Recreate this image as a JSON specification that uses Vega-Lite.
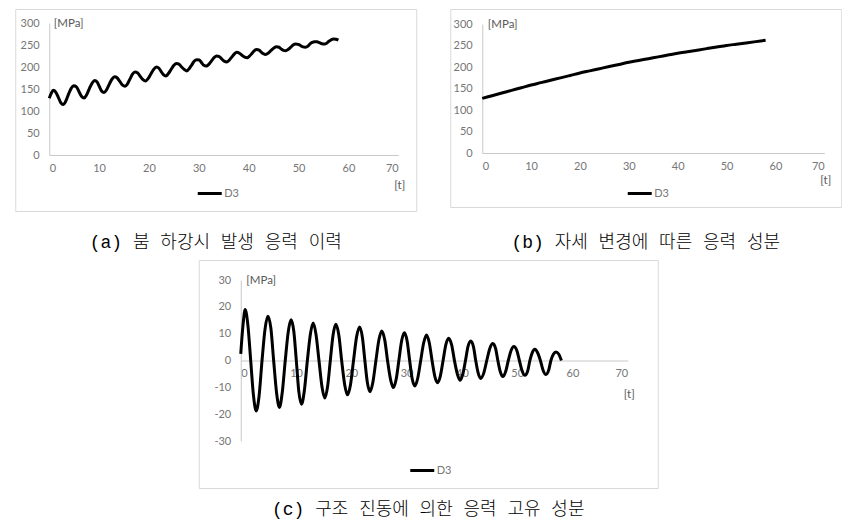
{
  "$schema": "https://vega.github.io/schema/vega-lite/v6.json",
  "padding": {"left": 14, "top": 8, "right": 0, "bottom": 0},
  "spacing": 6,
  "center": true,
  "resolve": {"scale": {"color": "independent"}, "legend": {"color": "independent"}},
  "vconcat": [
    {
      "spacing": 32,
      "resolve": {"scale": {"color": "independent"}, "legend": {"color": "independent"}},
      "hconcat": [
        {
          "width": 401,
          "height": 202,
          "title": {"text": "(a) 붐 하강시 발생 응력 이력", "orient": "bottom", "offset": 23},
          "data": {"values": [
            {"t": 0, "v": 129}, {"t": 0.4, "v": 140}, {"t": 0.8, "v": 147}, {"t": 1.3, "v": 143}, {"t": 1.8, "v": 131.6},
            {"t": 2.3, "v": 119}, {"t": 2.8, "v": 114.5}, {"t": 3.3, "v": 122}, {"t": 3.85, "v": 137.9}, {"t": 4.4, "v": 151.4},
            {"t": 4.9, "v": 157.5}, {"t": 5.45, "v": 154.9}, {"t": 5.95, "v": 144.4}, {"t": 6.5, "v": 133}, {"t": 7.0, "v": 129.5},
            {"t": 7.5, "v": 137}, {"t": 8.05, "v": 151}, {"t": 8.6, "v": 163.5}, {"t": 9.1, "v": 169.5}, {"t": 9.6, "v": 166},
            {"t": 10.05, "v": 155.6}, {"t": 10.5, "v": 145.4}, {"t": 11.0, "v": 141.8}, {"t": 11.5, "v": 148.4}, {"t": 12.05, "v": 161.2},
            {"t": 12.6, "v": 172.7}, {"t": 13.1, "v": 177.8}, {"t": 13.6, "v": 175.5}, {"t": 14.15, "v": 167.1}, {"t": 14.7, "v": 158.8},
            {"t": 15.2, "v": 156.5}, {"t": 15.7, "v": 161.7}, {"t": 16.2, "v": 172.9}, {"t": 16.7, "v": 183.8}, {"t": 17.2, "v": 188.5},
            {"t": 17.75, "v": 186.5}, {"t": 18.25, "v": 178.6}, {"t": 18.8, "v": 171.1}, {"t": 19.3, "v": 168.2}, {"t": 19.85, "v": 174.1},
            {"t": 20.4, "v": 184.5}, {"t": 20.95, "v": 194.7}, {"t": 21.5, "v": 200}, {"t": 22.0, "v": 197.2}, {"t": 22.45, "v": 189.6},
            {"t": 22.9, "v": 182.6}, {"t": 23.4, "v": 179.6}, {"t": 23.9, "v": 185.2}, {"t": 24.45, "v": 194.6}, {"t": 25.0, "v": 203.8},
            {"t": 25.5, "v": 208}, {"t": 26.05, "v": 206.2}, {"t": 26.55, "v": 199.9}, {"t": 27.1, "v": 194.2}, {"t": 27.6, "v": 191},
            {"t": 28.1, "v": 196.7}, {"t": 28.6, "v": 205}, {"t": 29.1, "v": 213.6}, {"t": 29.6, "v": 216.5}, {"t": 30.1, "v": 215.9},
            {"t": 30.55, "v": 209.7}, {"t": 31.0, "v": 203.9}, {"t": 31.5, "v": 202}, {"t": 32.0, "v": 206}, {"t": 32.55, "v": 213.9},
            {"t": 33.1, "v": 221.7}, {"t": 33.6, "v": 225}, {"t": 34.1, "v": 223.7}, {"t": 34.6, "v": 218.2}, {"t": 35.1, "v": 213.3},
            {"t": 35.6, "v": 211.5}, {"t": 36.1, "v": 215.5}, {"t": 36.6, "v": 222.4}, {"t": 37.1, "v": 229.3}, {"t": 37.6, "v": 233.5},
            {"t": 38.15, "v": 231.4}, {"t": 38.65, "v": 226.7}, {"t": 39.2, "v": 222.6}, {"t": 39.7, "v": 221.2}, {"t": 40.15, "v": 224.6},
            {"t": 40.65, "v": 230.7}, {"t": 41.1, "v": 236.7}, {"t": 41.6, "v": 239.7}, {"t": 42.1, "v": 238.4}, {"t": 42.5, "v": 234},
            {"t": 42.95, "v": 230.1}, {"t": 43.4, "v": 228.6}, {"t": 43.95, "v": 231.9}, {"t": 44.5, "v": 237.6}, {"t": 45.05, "v": 243.1},
            {"t": 45.6, "v": 245.8}, {"t": 46.1, "v": 244.9}, {"t": 46.5, "v": 241.2}, {"t": 46.95, "v": 237.8}, {"t": 47.4, "v": 237},
            {"t": 47.9, "v": 239.5}, {"t": 48.4, "v": 244.6}, {"t": 48.9, "v": 249.9}, {"t": 49.4, "v": 252.5}, {"t": 49.95, "v": 251.5},
            {"t": 50.4, "v": 248.6}, {"t": 50.9, "v": 245.8}, {"t": 51.4, "v": 245}, {"t": 51.9, "v": 247.5}, {"t": 52.3, "v": 252.3},
            {"t": 52.75, "v": 255.8}, {"t": 53.2, "v": 257.5}, {"t": 53.7, "v": 257.2}, {"t": 54.2, "v": 255.2}, {"t": 54.7, "v": 252.8},
            {"t": 55.2, "v": 252.3}, {"t": 55.7, "v": 254.8}, {"t": 56.1, "v": 258.7}, {"t": 56.55, "v": 261.8}, {"t": 57.0, "v": 263.5},
            {"t": 57.5, "v": 263}, {"t": 58.0, "v": 261}
          ]},
          "mark": {"type": "line", "strokeWidth": 3, "interpolate": "monotone"},
          "encoding": {
            "x": {"field": "t", "type": "quantitative", "scale": {"domain": [0, 70], "range": [34, 383], "nice": false},
                  "axis": {"values": [0, 10, 20, 30, 40, 50, 60, 70], "offset": -56, "title": "[t]", "titleX": 384, "titleY": 30}},
            "y": {"field": "v", "type": "quantitative", "scale": {"domain": [0, 300], "range": [146, 14], "nice": false},
                  "axis": {"values": [0, 50, 100, 150, 200, 250, 300], "offset": -34, "title": "[MPa]", "titleX": 4, "titleY": 14}},
            "color": {"datum": "D3", "scale": {"range": ["#000000"]}, "legend": {"orient": "none", "legendX": 181, "legendY": 171, "title": null}}
          }
        },
        {
          "width": 391,
          "height": 198,
          "title": {"text": "(b) 자세 변경에 따른 응력 성분", "orient": "bottom", "offset": 27},
          "data": {"values": [
            {"t": 0, "v": 127}, {"t": 2, "v": 133.2}, {"t": 4, "v": 139.4}, {"t": 6, "v": 145.6}, {"t": 8, "v": 151.8},
            {"t": 10, "v": 158}, {"t": 12, "v": 163.6}, {"t": 14, "v": 169.2}, {"t": 16, "v": 174.8}, {"t": 18, "v": 180.4},
            {"t": 20, "v": 186}, {"t": 22, "v": 191}, {"t": 24, "v": 196}, {"t": 26, "v": 201}, {"t": 28, "v": 206},
            {"t": 30, "v": 211}, {"t": 32, "v": 215.2}, {"t": 34, "v": 219.4}, {"t": 36, "v": 223.6}, {"t": 38, "v": 227.8},
            {"t": 40, "v": 232}, {"t": 42, "v": 235.6}, {"t": 44, "v": 239.2}, {"t": 46, "v": 242.8}, {"t": 48, "v": 246.4},
            {"t": 50, "v": 250}, {"t": 52, "v": 253}, {"t": 54, "v": 256}, {"t": 56, "v": 259}, {"t": 58, "v": 262}
          ]},
          "mark": {"type": "line", "strokeWidth": 3, "interpolate": "monotone"},
          "encoding": {
            "x": {"field": "t", "type": "quantitative", "scale": {"domain": [0, 70], "range": [32, 374], "nice": false},
                  "axis": {"values": [0, 10, 20, 30, 40, 50, 60, 70], "offset": -54, "title": "[t]", "titleX": 375, "titleY": 27}},
            "y": {"field": "v", "type": "quantitative", "scale": {"domain": [0, 300], "range": [144, 15], "nice": false},
                  "axis": {"values": [0, 50, 100, 150, 200, 250, 300], "offset": -32, "title": "[MPa]", "titleX": 5, "titleY": 15}},
            "color": {"datum": "D3", "scale": {"range": ["#000000"]}, "legend": {"orient": "none", "legendX": 176, "legendY": 171, "title": null}}
          }
        }
      ]
    },
    {
      "width": 459,
      "height": 228,
      "title": {"text": "(c) 구조 진동에 의한 응력 고유 성분", "orient": "bottom", "offset": 13},
      "data": {"values": [
        {"t": 0, "v": 2.5}, {"t": 0.4, "v": 13}, {"t": 0.8, "v": 19}, {"t": 1.3, "v": 13}, {"t": 1.8, "v": 0},
        {"t": 2.3, "v": -13}, {"t": 2.8, "v": -18.8}, {"t": 3.3, "v": -13.5}, {"t": 3.85, "v": 0}, {"t": 4.4, "v": 11.8},
        {"t": 4.9, "v": 16.5}, {"t": 5.45, "v": 12}, {"t": 5.95, "v": 0}, {"t": 6.5, "v": -12.4}, {"t": 7.0, "v": -17.5},
        {"t": 7.5, "v": -12}, {"t": 8.05, "v": 0}, {"t": 8.6, "v": 10.8}, {"t": 9.1, "v": 15.2}, {"t": 9.6, "v": 10.8},
        {"t": 10.05, "v": 0}, {"t": 10.5, "v": -11.5}, {"t": 11.0, "v": -16.3}, {"t": 11.5, "v": -11.3}, {"t": 12.05, "v": 0},
        {"t": 12.6, "v": 9.9}, {"t": 13.1, "v": 14}, {"t": 13.6, "v": 9.9}, {"t": 14.15, "v": 0}, {"t": 14.7, "v": -9.9},
        {"t": 15.2, "v": -14}, {"t": 15.7, "v": -9.8}, {"t": 16.2, "v": 0}, {"t": 16.7, "v": 9.5}, {"t": 17.2, "v": 13.5},
        {"t": 17.75, "v": 9.3}, {"t": 18.25, "v": 0}, {"t": 18.8, "v": -9}, {"t": 19.3, "v": -12.8}, {"t": 19.85, "v": -9},
        {"t": 20.4, "v": 0}, {"t": 20.95, "v": 8.8}, {"t": 21.5, "v": 12.5}, {"t": 22.0, "v": 8.7}, {"t": 22.45, "v": 0},
        {"t": 22.9, "v": -8.2}, {"t": 23.4, "v": -11.6}, {"t": 23.9, "v": -8.1}, {"t": 24.45, "v": 0}, {"t": 25.0, "v": 7.8},
        {"t": 25.5, "v": 11}, {"t": 26.05, "v": 7.6}, {"t": 26.55, "v": 0}, {"t": 27.1, "v": -7.1}, {"t": 27.6, "v": -10.1},
        {"t": 28.1, "v": -7.1}, {"t": 28.6, "v": 0}, {"t": 29.1, "v": 7.3}, {"t": 29.6, "v": 10.3}, {"t": 30.1, "v": 7.2},
        {"t": 30.55, "v": 0}, {"t": 31.0, "v": -6.7}, {"t": 31.5, "v": -9.5}, {"t": 32.0, "v": -6.7}, {"t": 32.55, "v": 0},
        {"t": 33.1, "v": 6.7}, {"t": 33.6, "v": 9.5}, {"t": 34.1, "v": 6.6}, {"t": 34.6, "v": 0}, {"t": 35.1, "v": -5.9},
        {"t": 35.6, "v": -8.3}, {"t": 36.1, "v": -5.8}, {"t": 36.6, "v": 0}, {"t": 37.1, "v": 5.9}, {"t": 37.6, "v": 8.3},
        {"t": 38.15, "v": 5.8}, {"t": 38.65, "v": 0}, {"t": 39.2, "v": -5.2}, {"t": 39.7, "v": -7.4}, {"t": 40.15, "v": -5.2},
        {"t": 40.65, "v": 0}, {"t": 41.1, "v": 5.2}, {"t": 41.6, "v": 7.3}, {"t": 42.1, "v": 5.1}, {"t": 42.5, "v": 0},
        {"t": 42.95, "v": -4.7}, {"t": 43.4, "v": -6.7}, {"t": 43.95, "v": -4.7}, {"t": 44.5, "v": 0}, {"t": 45.05, "v": 4.5},
        {"t": 45.6, "v": 6.3}, {"t": 46.1, "v": 4.4}, {"t": 46.5, "v": 0}, {"t": 46.95, "v": -4.2}, {"t": 47.4, "v": -6},
        {"t": 47.9, "v": -4.2}, {"t": 48.4, "v": 0}, {"t": 48.9, "v": 3.7}, {"t": 49.4, "v": 5.2}, {"t": 49.95, "v": 3.6},
        {"t": 50.4, "v": 0}, {"t": 50.9, "v": -3.9}, {"t": 51.4, "v": -5.5}, {"t": 51.9, "v": -3.9}, {"t": 52.3, "v": 0},
        {"t": 52.75, "v": 3}, {"t": 53.2, "v": 4.2}, {"t": 53.7, "v": 2.9}, {"t": 54.2, "v": 0}, {"t": 54.7, "v": -3.7},
        {"t": 55.2, "v": -5.2}, {"t": 55.7, "v": -3.6}, {"t": 56.1, "v": 0}, {"t": 56.55, "v": 2.3}, {"t": 57.0, "v": 3.2},
        {"t": 57.5, "v": 2.4}, {"t": 58.0, "v": 0}
      ]},
      "mark": {"type": "line", "strokeWidth": 3, "interpolate": "monotone"},
      "encoding": {
        "x": {"field": "t", "type": "quantitative", "scale": {"domain": [0, 70], "range": [42, 429], "nice": false},
              "axis": {"values": [0, 10, 20, 30, 40, 50, 60, 70], "offset": -127.5, "title": "[t]", "titleX": 430, "titleY": 34}},
        "y": {"field": "v", "type": "quantitative", "scale": {"domain": [-30, 30], "range": [181, 20], "nice": false},
              "axis": {"values": [-30, -20, -10, 0, 10, 20, 30], "labelExpr": "'' + datum.value", "offset": -42, "title": "[MPa]", "titleX": 5, "titleY": 20}},
        "color": {"datum": "D3", "scale": {"range": ["#000000"]}, "legend": {"orient": "none", "legendX": 210, "legendY": 197, "title": null}}
      }
    }
  ],
  "config": {
    "view": {"stroke": "#d9d9d9", "strokeWidth": 1},
    "axis": {"ticks": false, "grid": false, "domainColor": "#c8c8c8", "domainWidth": 1,
             "labelFont": "Lato", "labelFontSize": 11, "labelColor": "#767676",
             "titleFont": "Lato", "titleFontSize": 11.5, "titleColor": "#595959", "titleFontWeight": "normal", "titleAngle": 0},
    "axisX": {"labelPadding": 7, "titleAlign": "center", "titleBaseline": "middle"},
    "axisY": {"labelPadding": 10, "titleAlign": "left", "titleBaseline": "middle", "titleAngle": 0},
    "legend": {"symbolType": "stroke", "symbolStrokeWidth": 3, "symbolSize": 576, "labelFont": "Lato", "labelFontSize": 11,
               "labelColor": "#767676", "labelOffset": 1, "padding": 0},
    "title": {"font": "Liberation Mono, Noto Sans CJK KR", "fontSize": 18, "fontWeight": 300, "color": "#000000", "baseline": "top"}
  }
}
